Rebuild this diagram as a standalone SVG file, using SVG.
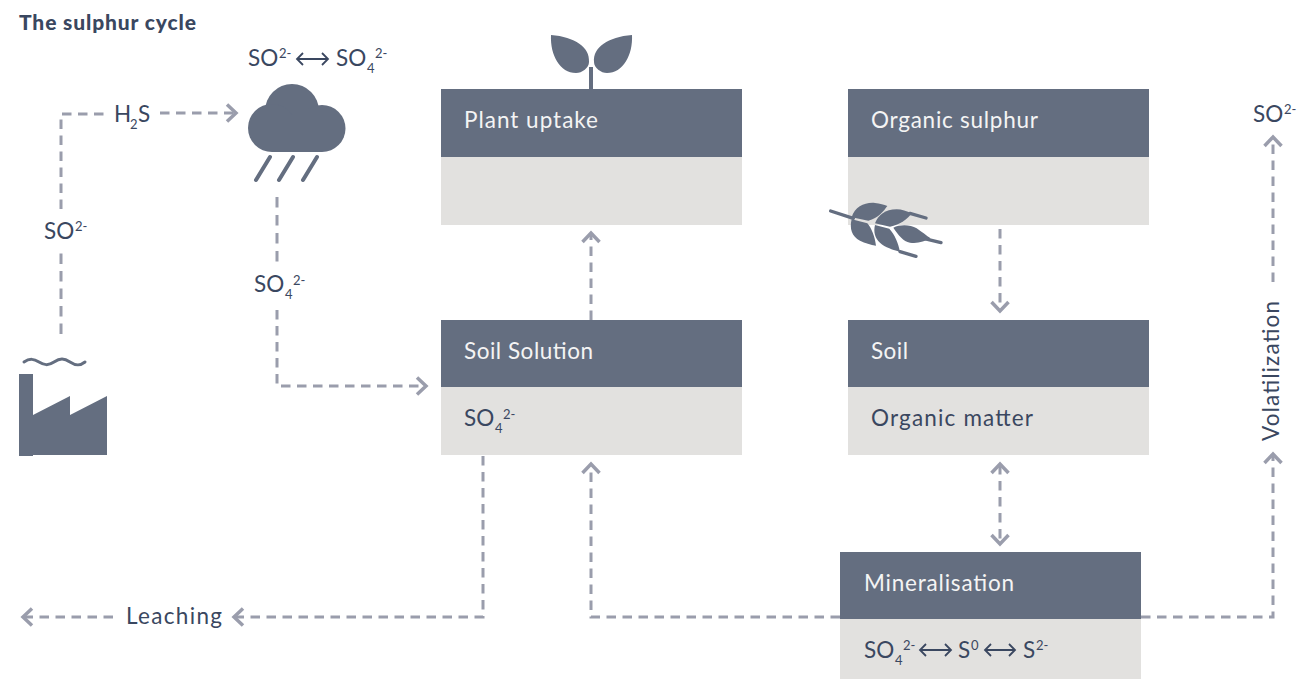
<svg xmlns="http://www.w3.org/2000/svg" width="1297" height="679" viewBox="0 0 1297 679">
<style>
text{font-family:"Lato","Noto Sans",sans-serif;font-size:22.5px;fill:#3a4760}
.h{fill:#646e80}.b{fill:#e2e1df}
.w{fill:#f4f4f4}
.title{font-weight:900;font-size:21px}
.s{font-size:13px}
.c{fill:none;stroke:#9a9dac;stroke-width:3;stroke-dasharray:9.500 6.500}
.i{fill:#646e80}
.l{fill:none;stroke:#646e80;stroke-linecap:round}
</style>
<defs>
<marker id="a" markerUnits="userSpaceOnUse" markerWidth="26" markerHeight="26" refX="13" refY="13" orient="auto-start-reverse"><path d="M5 4.500L14 13L5 21.500" fill="none" stroke="#9a9dac" stroke-width="3.500"/></marker>
</defs>
<text class="title" x="19" y="30" textLength="177">The sulphur cycle</text>
<g id="connectors">
<path class="c" style="stroke-dasharray:10.500 7" d="M61 334V253.500"/>
<path class="c" d="M61 209V114H105"/>
<path class="c" d="M160 113H235" marker-end="url(#a)"/>
<path class="c" style="stroke-dasharray:10.500 7.500" d="M277 197V262"/>
<path class="c" d="M277 310V386H425" marker-end="url(#a)"/>
<path class="c" d="M591 320V234" marker-end="url(#a)"/>
<path class="c" d="M1000 229V310" marker-end="url(#a)"/>
<path class="c" d="M1000 465V543" marker-start="url(#a)" marker-end="url(#a)"/>
<path class="c" d="M840 617H591V465" marker-end="url(#a)"/>
<path class="c" d="M1141 617H1273V455" marker-end="url(#a)"/>
<path class="c" d="M1273 282V138" marker-end="url(#a)"/>
<path class="c" d="M483 456V617H235" marker-end="url(#a)"/>
<path class="c" d="M113 617H24" marker-end="url(#a)"/>
</g>
<g id="factory">
<rect class="i" x="19" y="374" width="14" height="82"/>
<path class="i" d="M33 415L70 396V415L107 396V455H33Z"/>
<path class="l" stroke-width="3" d="M24 362C30 358 34 359 39 362S48 366 54 362S64 358 70 362S80 366 85 362"/>
</g>
<g id="cloud">
<circle class="i" cx="292" cy="111" r="27"/>
<circle class="i" cx="322" cy="128.500" r="23.500"/>
<circle class="i" cx="272" cy="128" r="24"/>
<rect class="i" x="272" y="115" width="50" height="37"/>
<path class="l" stroke-width="4" d="M256 180L270 157M279 180L293 157M303 180L317 157"/>
</g>
<g id="plant-uptake">
<rect class="h" x="441" y="89" width="301" height="68"/><rect class="b" x="441" y="157" width="301" height="68"/>
<path class="i" d="M551 35C575 37 590 47 589 62C589 68 582 73 576 73C560 73 550 55 551 35Z"/>
<path class="i" d="M632 35C608 37 593 47 594 62C594 68 601 73 607 73C623 73 633 55 632 35Z"/>
<rect class="i" x="589" y="67" width="4" height="23"/>
<text class="w" x="464" y="128" textLength="134">Plant uptake</text>
</g>
<g id="organic-sulphur">
<rect class="h" x="848" y="89" width="301" height="68"/><rect class="b" x="848" y="157" width="301" height="68"/>
<text class="w" x="871" y="128" textLength="167">Organic sulphur</text>
<g transform="translate(810 190) scale(.3333)">
<path class="l" stroke-width="10" d="M62 63L130 85M300 70L348 84M270 185L318 199M340 145L393 158"/>
<path class="i" d="M175 92L125 82C135 50 165 36 195 39C210 40 222 44 232 48C222 62 205 85 175 92Z"/>
<path class="i" d="M172 100L125 88C118 115 125 140 150 152C165 160 182 164 198 167C195 140 185 115 172 100Z"/>
<path class="i" d="M195 100C205 75 225 58 260 58C275 58 290 63 305 70C295 85 270 105 240 110Z"/>
<path class="i" d="M195 105L238 116C255 135 265 160 270 185C250 180 225 172 210 158C195 145 190 125 195 105Z"/>
<path class="i" d="M250 113C270 103 300 103 320 115C335 125 350 138 362 145C345 155 320 162 300 158C280 155 265 135 250 113Z"/>
</g>
</g>
<g id="soil-solution">
<rect class="h" x="441" y="320" width="301" height="67"/><rect class="b" x="441" y="387" width="301" height="68"/>
<text class="w" x="464" y="359" textLength="129">Soil Solution</text>
<text x="464" y="426">SO<tspan class="s" x="495" y="433">4</tspan><tspan class="s" x="503" y="419">2-</tspan></text>
</g>
<g id="soil">
<rect class="h" x="848" y="320" width="301" height="67"/><rect class="b" x="848" y="387" width="301" height="68"/>
<text class="w" x="871" y="359" textLength="37">Soil</text>
<text x="871" y="426" textLength="162">Organic matter</text>
</g>
<g id="mineralisation">
<rect class="h" x="840" y="552" width="301" height="67"/><rect class="b" x="840" y="619" width="301" height="60"/>
<text class="w" x="864" y="591" textLength="150">Mineralisation</text>
<text x="864" y="658">SO<tspan class="s" x="895" y="665">4</tspan><tspan class="s" x="903" y="650">2-</tspan></text>
<path fill="none" stroke="#3a4760" stroke-width="1.800" d="M920 650H951M926 644L920 650L926 656M945 644L951 650L945 656M985 650H1015M991 644L985 650L991 656M1009 644L1015 650L1009 656"/>
<text x="958" y="658">S<tspan class="s" x="971" y="650">0</tspan></text>
<text x="1023" y="658">S<tspan class="s" x="1036" y="650">2-</tspan></text>
</g>
<g id="labels">
<text x="248" y="66">SO<tspan class="s" x="279" y="58">2-</tspan></text>
<path fill="none" stroke="#3a4760" stroke-width="1.800" d="M297 59H328M303 53L297 59L303 65M322 53L328 59L322 65"/>
<text x="336" y="66">SO<tspan class="s" x="367" y="73">4</tspan><tspan class="s" x="375" y="58">2-</tspan></text>
<text x="114" y="122">H<tspan class="s" x="130" y="129">2</tspan><tspan x="138" y="122">S</tspan></text>
<text x="44" y="239">SO<tspan class="s" x="75" y="231">2-</tspan></text>
<text x="254" y="292">SO<tspan class="s" x="285" y="299">4</tspan><tspan class="s" x="293" y="285">2-</tspan></text>
<text x="1253" y="122">SO<tspan class="s" x="1284" y="114">2-</tspan></text>
<text x="126" y="624" textLength="96">Leaching</text>
<text transform="translate(1279 441) rotate(-90)" textLength="140">Volatilization</text>
</g>
</svg>
